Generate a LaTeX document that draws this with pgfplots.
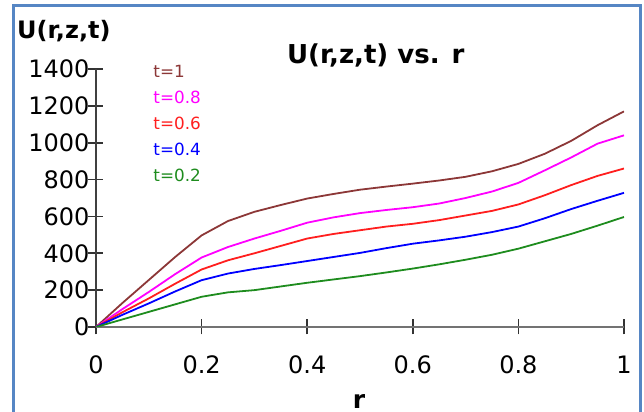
\documentclass[border=0pt]{standalone}
\usepackage{fontspec}
\setmainfont{DejaVu Sans}
\usepackage{pgfplots}
\pgfplotsset{compat=1.18}
\definecolor{cbrown}{RGB}{140,55,55}
\definecolor{cpink}{RGB}{255,0,255}
\definecolor{cred}{RGB}{255,30,30}
\definecolor{cblue}{RGB}{0,0,255}
\definecolor{cgreen}{RGB}{30,140,30}
\definecolor{frame}{RGB}{86,134,196}
\begin{document}
\begin{tikzpicture}
\useasboundingbox (0,0) rectangle (322pt,206pt);
\draw[frame, line width=1.5pt] (6.5pt,-5pt) -- (6.5pt,203pt) -- (320pt,203pt) -- (320pt,-5pt);
\begin{axis}[
  at={(48pt,42.5pt)}, anchor=origin,
  scale only axis, width=264pt, height=129pt,
  xmin=0, xmax=1, ymin=0, ymax=1400,
  xtick={0,0.2,0.4,0.6,0.8,1},
  ytick={0,200,400,600,800,1000,1200,1400},
  axis x line=bottom, axis y line=left,
  x axis line style={-, black!55, line width=1.4pt},
  y axis line style={-, black!75, line width=0.9pt},
  tick align=center, major tick length=7.5pt,
  tick style={black!80, line width=0.8pt},
  /pgf/number format/assume math mode=true,
  /pgf/number format/1000 sep={},
  ticklabel style={font=\fontsize{12}{14}\selectfont},
  yticklabel style={xshift=4pt},
  xticklabel style={yshift=-7pt},
  title={U(r,z,t) vs. r},
  title style={font=\bfseries\fontsize{13}{15}\selectfont, at={(axis description cs:0.53,1.054)}, anchor=center, yshift=-6pt, inner sep=0pt},
  ylabel={U(r,z,t)},
  ylabel style={font=\bfseries\fontsize{12}{14}\selectfont, rotate=-90, at={(axis description cs:-0.15,1.148)}, anchor=west, inner sep=0pt},
  xlabel={r},
  xlabel style={font=\bfseries\fontsize{12.5}{14}\selectfont, at={(axis description cs:0.498,-0.29)}, anchor=center, inner sep=0pt},
  legend plot pos=none,
  legend style={at={(axis description cs:0.108,1.0136)}, anchor=north west, draw=none, fill=none, inner sep=0pt, row sep=6.9pt, font=\fontsize{8.4}{9}\selectfont, nodes={inner sep=0pt, text height=6pt, text depth=0pt}},
  legend cell align=left,
  every axis plot/.append style={line width=0.9pt},
]
\addplot[cbrown] coordinates {(0,0)(0.05,130)(0.1,255)(0.15,380)(0.2,497)(0.25,575)(0.3,625)(0.35,662)(0.4,697)(0.45,722)(0.5,745)(0.55,762)(0.6,778)(0.65,795)(0.7,815)(0.75,845)(0.8,885)(0.85,940)(0.9,1010)(0.95,1095)(1,1170)};
\addlegendentry{\textcolor{cbrown}{t=1}}
\addplot[cpink] coordinates {(0,0)(0.05,97)(0.1,190)(0.15,287)(0.2,377)(0.25,434)(0.3,480)(0.35,522)(0.4,566)(0.45,595)(0.5,618)(0.55,635)(0.6,650)(0.65,670)(0.7,700)(0.75,735)(0.8,782)(0.85,850)(0.9,920)(0.95,995)(1,1040)};
\addlegendentry{\textcolor{cpink}{t=0.8}}
\addplot[cred] coordinates {(0,0)(0.05,80)(0.1,155)(0.15,235)(0.2,312)(0.25,362)(0.3,400)(0.35,440)(0.4,480)(0.45,505)(0.5,525)(0.55,545)(0.6,560)(0.65,580)(0.7,605)(0.75,630)(0.8,665)(0.85,715)(0.9,770)(0.95,820)(1,860)};
\addlegendentry{\textcolor{cred}{t=0.6}}
\addplot[cblue] coordinates {(0,0)(0.05,66)(0.1,128)(0.15,193)(0.2,254)(0.25,290)(0.3,315)(0.35,336)(0.4,358)(0.45,380)(0.5,402)(0.55,428)(0.6,452)(0.65,470)(0.7,490)(0.75,515)(0.8,545)(0.85,590)(0.9,640)(0.95,685)(1,728)};
\addlegendentry{\textcolor{cblue}{t=0.4}}
\addplot[cgreen] coordinates {(0,0)(0.05,41)(0.1,82)(0.15,123)(0.2,164)(0.25,188)(0.3,200)(0.35,220)(0.4,240)(0.45,258)(0.5,276)(0.55,296)(0.6,317)(0.65,340)(0.7,365)(0.75,392)(0.8,425)(0.85,465)(0.9,505)(0.95,550)(1,597)};
\addlegendentry{\textcolor{cgreen}{t=0.2}}
\end{axis}
\end{tikzpicture}
\end{document}
